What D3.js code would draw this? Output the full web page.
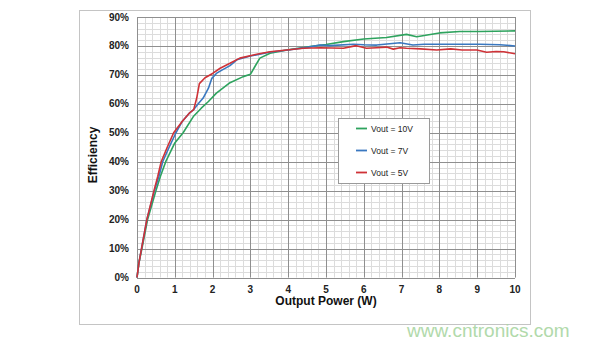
<!DOCTYPE html>
<html>
<head>
<meta charset="utf-8">
<script src="https://cdn.jsdelivr.net/npm/d3@7"></script>
<style>
  body { margin: 0; background: #fff; }
  svg { display: block; font-family: "Liberation Sans", Arial, sans-serif; }
</style>
</head>
<body>
<svg id="chart" width="590" height="344"></svg>
<script>
// data: [output power W, efficiency %]
const vout10 = [[0,0],[0.05,5],[0.13,10],[0.28,20],[0.5,30],[0.62,35],[0.76,40],[1.0,46.5],[1.22,50],[1.49,55.6],[1.7,58.5],[1.89,60.8],[2.1,63.7],[2.46,67.3],[2.81,69.4],[3.0,70.2],[3.12,72.9],[3.25,75.8],[3.52,77.5],[3.96,78.6],[4.58,79.8],[5.0,80.5],[5.46,81.5],[6.0,82.4],[6.6,82.9],[7.13,84],[7.4,83.2],[8.0,84.5],[8.54,85],[9.07,85],[10,85.2]];
const vout7 = [[0,0],[0.05,5],[0.12,10],[0.26,20],[0.46,30],[0.58,35],[0.68,40],[0.85,45],[1.03,50],[1.2,54],[1.4,57],[1.5,58],[1.62,60],[1.75,62],[1.89,65.4],[1.98,68.8],[2.1,70.5],[2.2,71.3],[2.46,73.2],[2.64,75.2],[3.0,76.5],[3.5,77.8],[4.0,78.6],[4.5,79.5],[4.84,80.3],[5.1,80.1],[5.72,80.6],[6.0,80.4],[6.34,80.3],[6.96,81.1],[7.3,80.3],[7.6,80.6],[8.5,80.6],[9.07,80.6],[9.6,80.4],[10,80]];
const vout5 = [[0,0],[0.05,5],[0.12,10],[0.26,20],[0.45,30],[0.55,35],[0.64,40],[0.8,45],[0.97,50],[1.2,54],[1.4,57],[1.5,58],[1.58,62],[1.65,67],[1.8,69],[2.0,70.5],[2.2,72.3],[2.46,74],[2.72,75.8],[3.08,76.9],[3.52,78],[3.96,78.6],[4.4,79.2],[4.84,79.4],[5.46,79.2],[5.8,80.1],[6.07,79.2],[6.34,79.4],[6.6,79.6],[6.78,78.9],[6.96,79.4],[7.13,79.2],[7.5,79],[7.93,78.6],[8.3,79],[8.6,78.6],[8.99,78.6],[9.25,77.8],[9.5,78.1],[9.7,78],[10,77.3]];

const seriesNames = ["Vout = 10V", "Vout = 7V", "Vout = 5V"];
const seriesColors = ["#2ea35e", "#3a78c0", "#cf3237"];
const seriesData = [vout10, vout7, vout5];

const xTicks = d3.range(0, 11, 1);
const yTicks = d3.range(0, 91, 10);

const svg = d3.select("#chart");

// outer frame
svg.append("rect").attr("x", 79.5).attr("y", 10.5).attr("width", 451).attr("height", 314)
  .attr("fill", "none").attr("stroke", "#c4c4c4");

const x = d3.scaleLinear().domain([0, 10]).range([137, 515]);
const y = d3.scaleLinear().domain([0, 90]).range([277.5, 17]);

// minor grid
const g = svg.append("g");
g.selectAll(".vminor").data(d3.range(0, 10.01, 0.2)).join("line")
  .attr("x1", d => Math.round(x(d)) + 0.5).attr("x2", d => Math.round(x(d)) + 0.5)
  .attr("y1", y(0)).attr("y2", y(90)).attr("stroke", "#dcdcdc").attr("stroke-width", 1);
g.selectAll(".hminor").data(d3.range(0, 90.01, 2)).join("line")
  .attr("y1", d => Math.round(y(d)) + 0.5).attr("y2", d => Math.round(y(d)) + 0.5)
  .attr("x1", x(0)).attr("x2", x(10)).attr("stroke", "#dcdcdc").attr("stroke-width", 1);

// major grid
g.selectAll(".vmajor").data(xTicks).join("line")
  .attr("x1", d => Math.round(x(d)) + 0.5).attr("x2", d => Math.round(x(d)) + 0.5)
  .attr("y1", y(0)).attr("y2", y(90)).attr("stroke", "#8f8f8f").attr("stroke-width", 1);
g.selectAll(".hmajor").data(yTicks).join("line")
  .attr("y1", d => Math.round(y(d)) + 0.5).attr("y2", d => Math.round(y(d)) + 0.5)
  .attr("x1", x(0)).attr("x2", x(10)).attr("stroke", "#8f8f8f").attr("stroke-width", 1);

// tick labels
svg.append("g").selectAll("text").data(yTicks).join("text")
  .attr("x", 129).attr("y", d => y(d) + 3.5).attr("text-anchor", "end")
  .attr("font-size", 10).attr("font-weight", "bold").attr("fill", "#222")
  .text(d => d + "%");
svg.append("g").selectAll("text").data(xTicks).join("text")
  .attr("x", d => x(d)).attr("y", 293).attr("text-anchor", "middle")
  .attr("font-size", 10).attr("font-weight", "bold").attr("fill", "#222")
  .text(d => d);

// axis titles
svg.append("text").attr("x", 326).attr("y", 305).attr("text-anchor", "middle")
  .attr("font-size", 12).attr("font-weight", "bold").attr("fill", "#111")
  .text("Output Power (W)");
svg.append("text").attr("transform", "translate(97,155) rotate(-90)").attr("text-anchor", "middle")
  .attr("font-size", 12).attr("font-weight", "bold").attr("fill", "#111")
  .text("Efficiency");

// curves
const line = d3.line().x(d => x(d[0])).y(d => y(d[1]));
svg.append("g").selectAll("path").data(seriesData).join("path")
  .attr("d", line).attr("fill", "none")
  .attr("stroke", (d, i) => seriesColors[i]).attr("stroke-width", 1.6)
  .attr("stroke-linejoin", "round");

// legend
const legend = svg.append("g");
legend.append("rect").attr("x", 338.5).attr("y", 118.5).attr("width", 91).attr("height", 65)
  .attr("fill", "#fff").attr("stroke", "#9a9a9a");
seriesNames.forEach((name, i) =>
{
  const ly = 128.5 + i * 22;
  legend.append("line").attr("x1", 356).attr("x2", 367).attr("y1", ly).attr("y2", ly)
    .attr("stroke", seriesColors[i]).attr("stroke-width", 1.8);
  legend.append("text").attr("x", 371).attr("y", ly + 3).attr("font-size", 8.5)
    .attr("fill", "#222").text(name);
});

// watermark
svg.append("text").attr("x", 407).attr("y", 337).attr("font-size", 19)
  .attr("fill", "#a9d6a2").attr("opacity", 0.9).text("www.cntronics.com");
</script>
</body>
</html>
